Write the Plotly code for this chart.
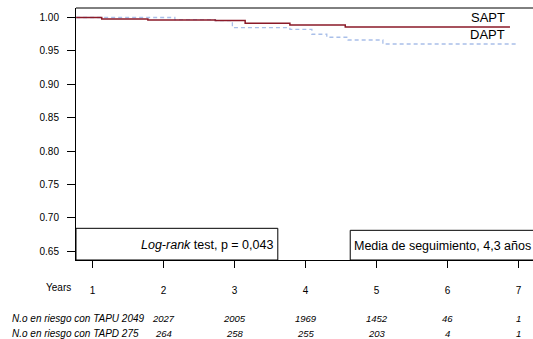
import plotly.graph_objects as go

# --- data ---
sapt_t = [0.77, 1.13, 1.78, 2.73, 3.15, 3.78, 4.56, 6.88]
sapt_s = [1.000, 0.9978, 0.9963, 0.9955, 0.9913, 0.9888, 0.9858, 0.9858]
dapt_t = [0.77, 2.16, 2.73, 2.97, 3.78, 4.09, 4.30, 4.60, 5.09, 6.98]
dapt_s = [1.000, 0.9967, 0.9952, 0.9847, 0.9823, 0.9749, 0.9704, 0.9663, 0.9603, 0.9603]
years = [1, 2, 3, 4, 5, 6, 7]
y_ticks = [0.65, 0.70, 0.75, 0.80, 0.85, 0.90, 0.95, 1.00]
risk_years = [2, 3, 4, 5, 6, 7]
risk_tapu = [2027, 2005, 1969, 1452, 46, 1]
risk_tapd = [264, 258, 255, 203, 4, 1]

RED = "#8b1a28"
BLUE = "#a9bfe9"
FONT = "Liberation Sans, Arial, sans-serif"

W, H = 533, 339
L, R, T, B = 76, 0, 8, 79
pw = W - L - R
ph = H - T - B
px_per_year = 71.0
x0 = 1 - (92.5 - L) / px_per_year
x1 = x0 + pw / px_per_year
px_per_unit = 668.0
y1 = 1.0 + (17.5 - T) / px_per_unit
y0 = y1 - ph / px_per_unit

fig = go.Figure()
fig.add_trace(go.Scatter(x=dapt_t, y=dapt_s, mode="lines", line_shape="hv",
                         line=dict(color=BLUE, width=1.3, dash="4px,3px"), showlegend=False))
fig.add_trace(go.Scatter(x=sapt_t, y=sapt_s, mode="lines", line_shape="hv",
                         line=dict(color=RED, width=1.5), showlegend=False))

def py2paper(py):
    return (T + ph - py) / ph

def px2paper(px):
    return (px - L) / pw

ann = []
# curve labels
ann.append(dict(x=px2paper(507), y=py2paper(18), xref="paper", yref="paper", text="SAPT",
                xanchor="right", yanchor="middle", showarrow=False, font=dict(size=13, color="black", family=FONT)))
ann.append(dict(x=px2paper(507), y=py2paper(35), xref="paper", yref="paper", text="DAPT",
                xanchor="right", yanchor="middle", showarrow=False, font=dict(size=13, color="black", family=FONT)))
# boxes text
ann.append(dict(x=px2paper(207), y=py2paper(245), xref="paper", yref="paper",
                text="<i>Log-rank</i> test, p = 0,043", xanchor="center", yanchor="middle",
                showarrow=False, font=dict(size=12.5, color="black", family=FONT)))
ann.append(dict(x=px2paper(352), y=py2paper(246), xref="paper", yref="paper",
                text="Media de seguimiento, 4,3 años", xanchor="left", yanchor="middle",
                showarrow=False, font=dict(size=12.5, color="black", family=FONT)))
# Years label
ann.append(dict(x=px2paper(58), y=py2paper(287), xref="paper", yref="paper", text="Years",
                xanchor="center", yanchor="middle", showarrow=False,
                font=dict(size=10, color="black", family=FONT)))
# risk rows
ann.append(dict(x=px2paper(10), y=py2paper(318), xref="paper", yref="paper",
                text="<i>N.o en riesgo con TAPU 2049</i>", xanchor="left", yanchor="middle",
                showarrow=False, font=dict(size=10, color="black", family=FONT)))
ann.append(dict(x=px2paper(10), y=py2paper(333), xref="paper", yref="paper",
                text="<i>N.o en riesgo con TAPD 275</i>", xanchor="left", yanchor="middle",
                showarrow=False, font=dict(size=10, color="black", family=FONT)))
for yr, a, b in zip(risk_years, risk_tapu, risk_tapd):
    ann.append(dict(x=yr, y=py2paper(318), xref="x", yref="paper", text=f"<i>{a}</i>",
                    xanchor="center", yanchor="middle", showarrow=False,
                    font=dict(size=9.5, color="black", family=FONT)))
    ann.append(dict(x=yr, y=py2paper(333), xref="x", yref="paper", text=f"<i>{b}</i>",
                    xanchor="center", yanchor="middle", showarrow=False,
                    font=dict(size=9.5, color="black", family=FONT)))

shapes = [
    # top border
    dict(type="line", xref="paper", yref="paper", x0=0, x1=1, y0=1, y1=1,
         line=dict(color="black", width=1)),
    # log-rank box
    dict(type="rect", xref="x", yref="y", x0=x0, x1=3.61, y0=y0, y1=0.6844,
         line=dict(color="black", width=1), fillcolor="white", layer="above"),
    # follow-up box
    dict(type="rect", xref="x", yref="y", x0=4.63, x1=x1 + 0.1, y0=y0, y1=0.6814,
         line=dict(color="black", width=1), fillcolor="white", layer="above"),
]

fig.update_layout(
    width=W, height=H, margin=dict(l=L, r=R, t=T, b=B, pad=0),
    paper_bgcolor="white", plot_bgcolor="white",
    font=dict(family=FONT, size=10, color="black"),
    annotations=ann, shapes=shapes,
    xaxis=dict(range=[x0, x1], tickvals=years, ticktext=[str(y) for y in years],
               showgrid=False, zeroline=False, showline=True, linecolor="black", linewidth=1,
               ticks="outside", ticklen=7, tickcolor="black", tickwidth=1,
               ticklabelstandoff=14, tickfont=dict(size=10, family=FONT)),
    yaxis=dict(range=[y0, y1], tickvals=y_ticks, ticktext=[f"{v:.2f}" for v in y_ticks],
               showgrid=False, zeroline=False, showline=True, linecolor="black", linewidth=1,
               ticks="outside", ticklen=8, tickcolor="black", tickwidth=1,
               ticklabelstandoff=6, tickfont=dict(size=10, family=FONT)),
)
fig.write_html("out.html", config={"displayModeBar": False},
               post_script="document.body.style.margin='0px';document.body.style.overflow='hidden';")
